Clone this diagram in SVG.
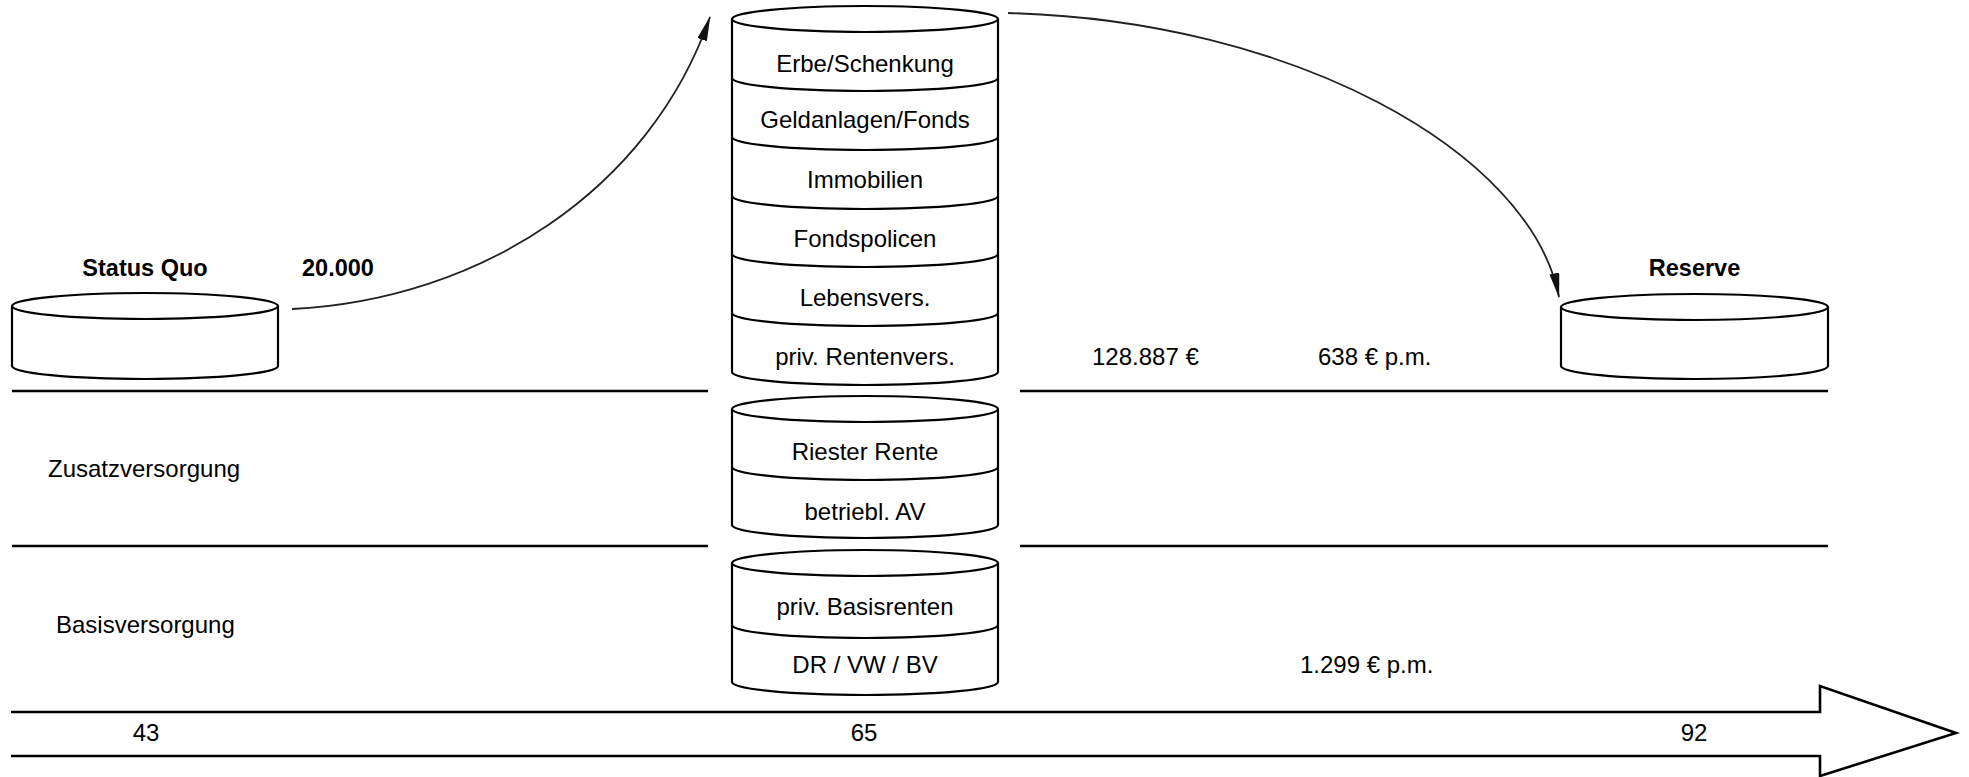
<svg xmlns="http://www.w3.org/2000/svg" width="1969" height="777" viewBox="0 0 1969 777">
<style>
.cyl{fill:#fff;stroke:#000;stroke-width:2.2}
.band{fill:none;stroke:#000;stroke-width:2.2}
.hl{fill:none;stroke:#000;stroke-width:2.6}
.con{fill:none;stroke:#222;stroke-width:1.8}
text{font-family:"Liberation Sans",Arial,sans-serif;font-size:24px;fill:#000}
.b{font-weight:bold;font-size:23.5px}
.c{text-anchor:middle}
</style>
<defs>
<marker id="ah" viewBox="0 0 25 10" refX="24" refY="5" markerWidth="25" markerHeight="10" markerUnits="userSpaceOnUse" orient="auto">
<path d="M0,0 L25,5 L0,10 z" fill="#111"/>
</marker>
</defs>
<rect width="1969" height="777" fill="#fff"/>
<g id="layers">
<path class="hl" d="M12,391 H708 M1020,391 H1828 M12,546 H708 M1020,546 H1828"/>
<text x="48" y="477">Zusatzversorgung</text>
<text x="56" y="633">Basisversorgung</text>
</g>
<g id="status-quo">
<path class="cyl" d="M12,306 V366 A133,13 0 0 0 278,366 V306"/>
<ellipse class="cyl" cx="145" cy="306" rx="133" ry="13"/>
<text class="b c" x="145" y="276">Status Quo</text>
<text class="b" x="302" y="276">20.000</text>
</g>
<g id="reserve">
<path class="cyl" d="M1561,307 V366 A133.5,13 0 0 0 1828,366 V307"/>
<ellipse class="cyl" cx="1694.5" cy="307" rx="133.5" ry="13"/>
<text class="b c" x="1694.5" y="276">Reserve</text>
</g>
<g id="private">
<path class="cyl" d="M732,19 V372 A133,13 0 0 0 998,372 V19"/>
<ellipse class="cyl" cx="865" cy="19" rx="133" ry="13"/>
<path class="band" d="M732,78 A133,13 0 0 0 998,78 M732,137 A133,13 0 0 0 998,137 M732,196 A133,13 0 0 0 998,196 M732,254 A133,13 0 0 0 998,254 M732,313 A133,13 0 0 0 998,313"/>
<text class="c" x="865" y="72">Erbe/Schenkung</text>
<text class="c" x="865" y="128">Geldanlagen/Fonds</text>
<text class="c" x="865" y="188">Immobilien</text>
<text class="c" x="865" y="247">Fondspolicen</text>
<text class="c" x="865" y="306">Lebensvers.</text>
<text class="c" x="865" y="365">priv. Rentenvers.</text>
</g>
<g id="zusatz">
<path class="cyl" d="M732,409 V525 A133,13 0 0 0 998,525 V409"/>
<ellipse class="cyl" cx="865" cy="409" rx="133" ry="13"/>
<path class="band" d="M732,467 A133,13 0 0 0 998,467"/>
<text class="c" x="865" y="460">Riester Rente</text>
<text class="c" x="865" y="520">betriebl. AV</text>
</g>
<g id="basis">
<path class="cyl" d="M732,563 V682 A133,13 0 0 0 998,682 V563"/>
<ellipse class="cyl" cx="865" cy="563" rx="133" ry="13"/>
<path class="band" d="M732,625 A133,13 0 0 0 998,625"/>
<text class="c" x="865" y="615">priv. Basisrenten</text>
<text class="c" x="865" y="673">DR / VW / BV</text>
</g>
<g id="values">
<text x="1092" y="365">128.887 €</text>
<text x="1318" y="365">638 € p.m.</text>
<text x="1300" y="673">1.299 € p.m.</text>
</g>
<g id="timeline">
<path class="hl" d="M11,712 H1820 V686 L1956,733 L1820,776 V756 H11" fill="#fff"/>
<text class="c" x="146" y="741">43</text>
<text class="c" x="864" y="741">65</text>
<text class="c" x="1694" y="741">92</text>
</g>
<g id="connectors">
<path class="con" d="M292,309 C480,300 650,190 710,17" marker-end="url(#ah)"/>
<path class="con" d="M1008,13 C1290,20 1530,150 1559,297" marker-end="url(#ah)"/>
</g>
</svg>
